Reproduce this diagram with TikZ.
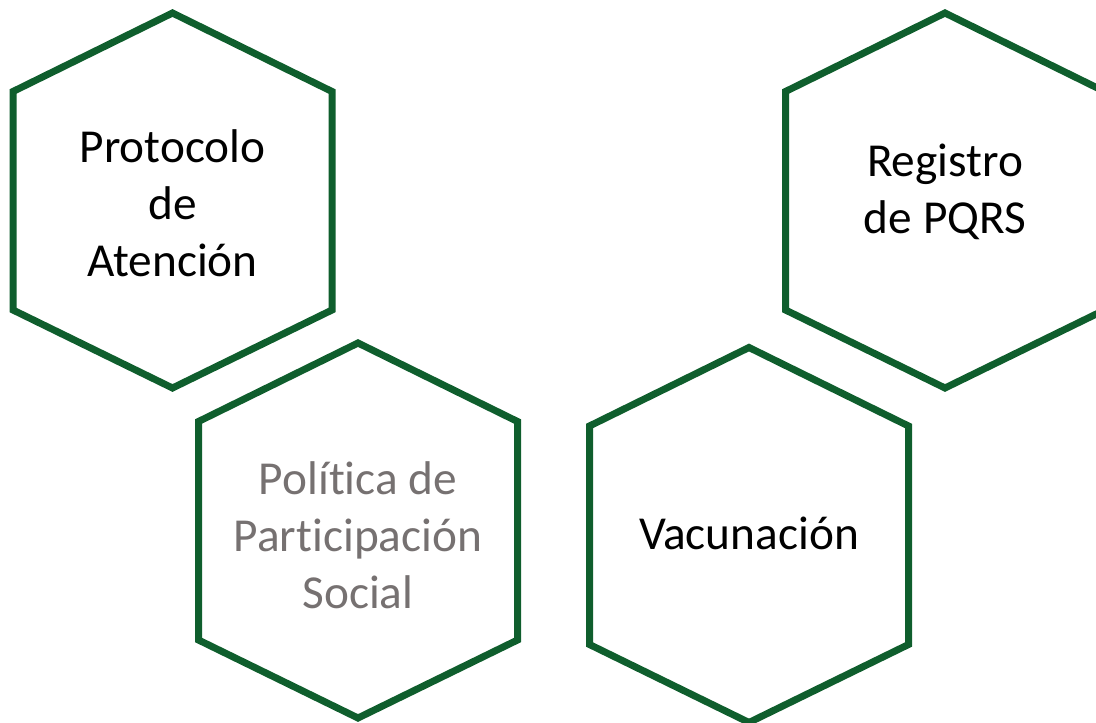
\documentclass[tikz,border=0pt]{standalone}
\usepackage{fontspec}
\setmainfont{Carlito}[Ligatures={NoCommon,NoRare},RawFeature={-liga;-dlig;-clig}]
\definecolor{hexgreen}{RGB}{15,94,45}
\definecolor{txtgrey}{RGB}{118,113,113}
\begin{document}
\begin{tikzpicture}[x=1pt,y=-1pt,
  hexline/.style={draw=hexgreen,line width=7pt,line join=miter,fill=white},
  hexa/.pic={\path[hexline] (0,-187.5)--(159.5,-109)--(159.5,109.5)--(0,187.5)--(-159.5,109.5)--(-159.5,-109)--cycle;},
  hextext/.style={font=\fontsize{47.3}{57}\selectfont, align=center, inner sep=0pt}]
\useasboundingbox (0,0) rectangle (1096,723);
\clip (0,0) rectangle (1096,723);
\pic at (172.5,200.5) {hexa};
\pic at (945,200.5) {hexa};
\pic at (358,530.5) {hexa};
\pic at (749,535) {hexa};
\node[hextext] (protocolo) at (172.5,203.5) {Protocolo\\de\\Atención};
\node[hextext] (registro) at (945,192) {Registro\\de PQRS};
\node[hextext,text=txtgrey] (politica) at (358,535) {Política de\\Participación\\Social};
\node[hextext] (vacunacion) at (749,533.5) {Vacunación};
\end{tikzpicture}
\end{document}
